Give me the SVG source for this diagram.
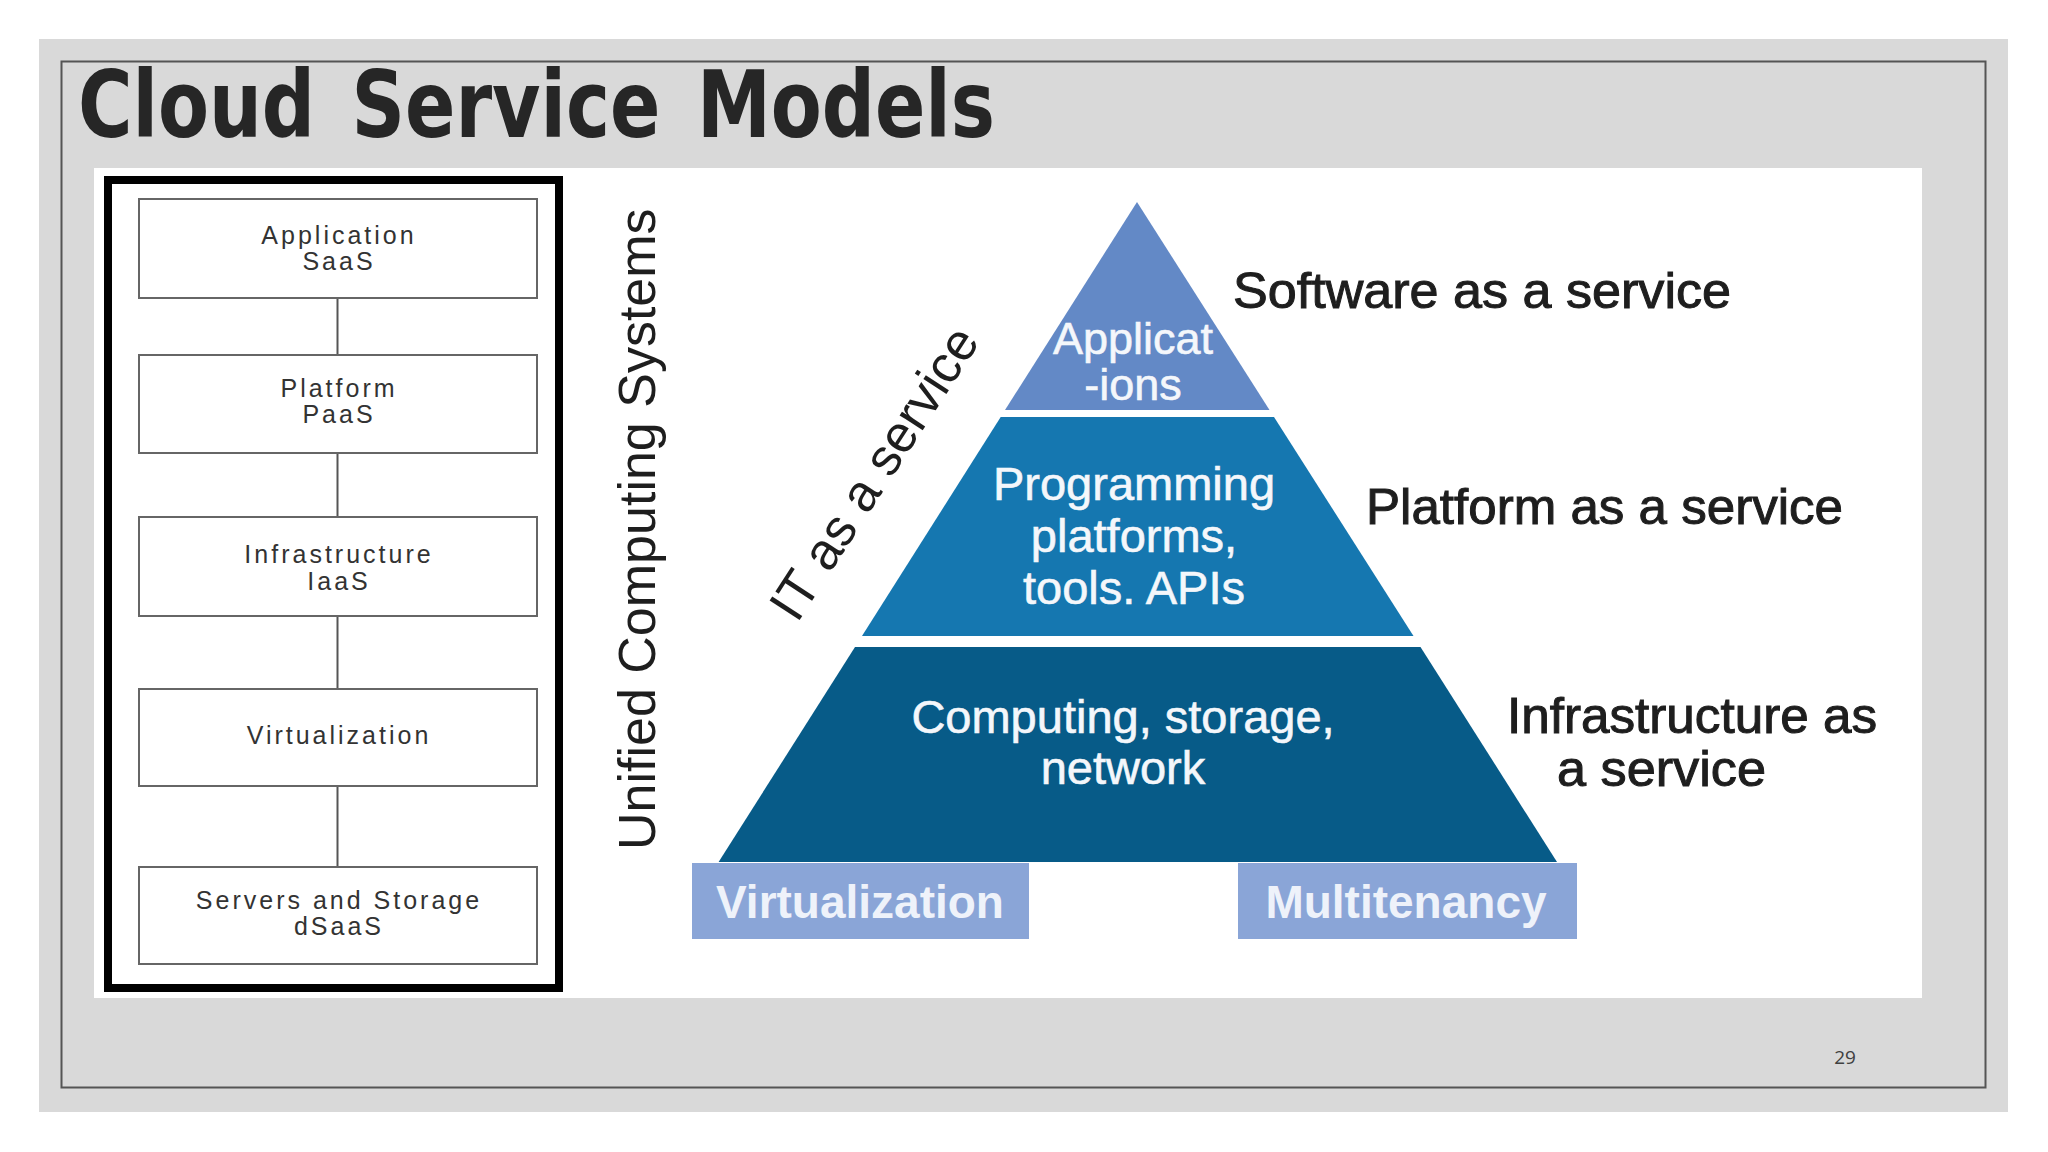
<svg xmlns="http://www.w3.org/2000/svg" width="2048" height="1152" viewBox="0 0 2048 1152">
<style>
.box{fill:#fff;stroke:#666;stroke-width:2}
.btxt{font-family:"Liberation Sans",Arial,sans-serif;font-size:25px;fill:#333;text-anchor:middle;letter-spacing:3px}
.ptxt{font-family:"Liberation Sans",Arial,sans-serif;fill:#f4f7fb;text-anchor:middle;stroke:#f4f7fb;stroke-width:0.6}
.rtxt{font-family:"Liberation Sans",Arial,sans-serif;font-size:50px;fill:#1e1e1e;stroke:#1e1e1e;stroke-width:1}
.ltxt{font-family:"Liberation Sans",Arial,sans-serif;font-size:52px;fill:#1e1e1e}
.foot{font-family:"Liberation Sans",Arial,sans-serif;font-size:46px;font-weight:bold;fill:#eef2fa;text-anchor:middle}
</style>
<rect x="0" y="0" width="2048" height="1152" fill="#fff"/>
<rect x="39" y="39" width="1969" height="1073" fill="#d9d9d9"/>
<rect x="61.5" y="61.5" width="1924" height="1026" fill="none" stroke="#555" stroke-width="2"/>
<text x="78" y="137" font-family="'DejaVu Sans Condensed','DejaVu Sans',sans-serif" font-weight="bold" font-size="92" fill="#262626" word-spacing="12" textLength="917" lengthAdjust="spacingAndGlyphs">Cloud Service Models</text>
<rect x="94" y="168" width="1828" height="830" fill="#fff"/>

<g id="left-panel">
<rect x="108" y="180" width="451" height="808" fill="#fff" stroke="#000" stroke-width="8"/>
</g>
<g id="connectors" stroke="#555" stroke-width="2">
<line x1="337.5" y1="298" x2="337.5" y2="355"/>
<line x1="337.5" y1="453" x2="337.5" y2="517"/>
<line x1="337.5" y1="616" x2="337.5" y2="689"/>
<line x1="337.5" y1="786" x2="337.5" y2="867"/>
</g>
<g id="n-app"><rect class="box" x="139" y="199" width="398" height="99"/><text class="btxt" x="339" y="244">Application</text><text class="btxt" x="339" y="270">SaaS</text></g>
<g id="n-plat"><rect class="box" x="139" y="355" width="398" height="98"/><text class="btxt" x="339" y="397">Platform</text><text class="btxt" x="339" y="423">PaaS</text></g>
<g id="n-infra"><rect class="box" x="139" y="517" width="398" height="99"/><text class="btxt" x="339" y="563">Infrastructure</text><text class="btxt" x="339" y="590">IaaS</text></g>
<g id="n-virt"><rect class="box" x="139" y="689" width="398" height="97"/><text class="btxt" x="339" y="744">Virtualization</text></g>
<g id="n-serv"><rect class="box" x="139" y="867" width="398" height="97"/><text class="btxt" x="339" y="909">Servers and Storage</text><text class="btxt" x="339" y="935">dSaaS</text></g>

<g id="pyramid-saas">
<polygon points="1137,202 1269.5,410 1005,410" fill="#6389c6"/>
<text class="ptxt" x="1133" y="354" font-size="45">Applicat</text>
<text class="ptxt" x="1133" y="400" font-size="45">-ions</text>
</g>
<g id="pyramid-paas">
<polygon points="1000.7,417 1274,417 1413.5,636 862,636" fill="#1577b0"/>
<text class="ptxt" x="1134" y="500" font-size="47">Programming</text>
<text class="ptxt" x="1134" y="552" font-size="47">platforms,</text>
<text class="ptxt" x="1134" y="604" font-size="47">tools. APIs</text>
</g>
<g id="pyramid-iaas">
<polygon points="855,647 1420.5,647 1557,862 718.6,862" fill="#075b88"/>
<text class="ptxt" x="1123" y="733" font-size="47">Computing, storage,</text>
<text class="ptxt" x="1123" y="784" font-size="47">network</text>
</g>
<g id="base-virt">
<rect x="692" y="863" width="337" height="76" fill="#8aa5d7"/>
<text class="foot" x="860" y="918">Virtualization</text>
</g>
<g id="base-multi">
<rect x="1238" y="863" width="339" height="76" fill="#8aa5d7"/>
<text class="foot" x="1406" y="918">Multitenancy</text>
</g>

<g id="labels">
<text class="rtxt" x="1233" y="308" textLength="498" lengthAdjust="spacingAndGlyphs">Software as a service</text>
<text class="rtxt" x="1366" y="524" textLength="477" lengthAdjust="spacingAndGlyphs">Platform as a service</text>
<text class="rtxt" x="1507" y="733" textLength="370" lengthAdjust="spacingAndGlyphs">Infrastructure as</text>
<text class="rtxt" x="1557" y="786" textLength="209" lengthAdjust="spacingAndGlyphs">a service</text>
<text class="ltxt" transform="translate(655,850) rotate(-90)">Unified Computing Systems</text>
<text class="ltxt" font-size="46" transform="translate(797,624) rotate(-57)">IT as a service</text>
</g>
<text x="1845" y="1064" font-family="'Open Sans','Liberation Sans',sans-serif" font-size="19" fill="#404040" text-anchor="middle">29</text>
</svg>
